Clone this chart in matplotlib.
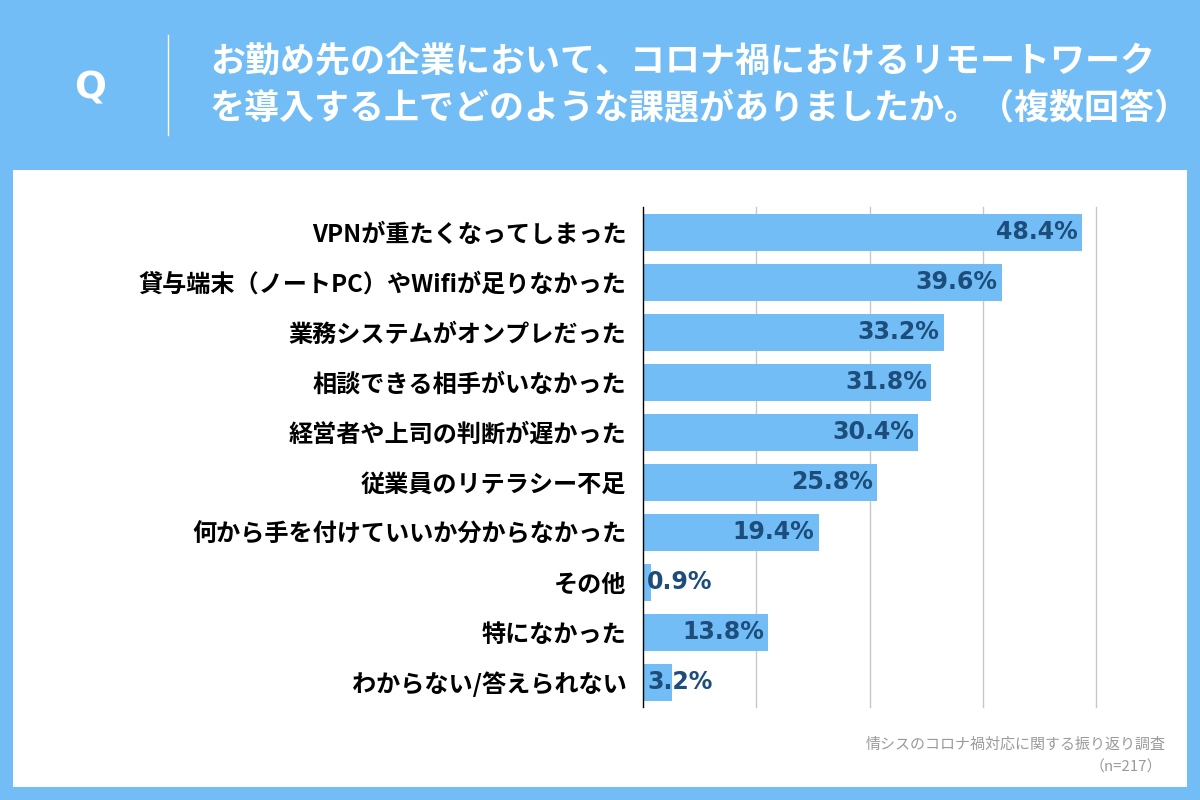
import matplotlib.pyplot as plt
from matplotlib.patches import Rectangle
from matplotlib.lines import Line2D

plt.rcParams['font.family'] = ['Noto Sans CJK JP', 'DejaVu Sans']

# ── Data ──────────────────────────────────────────────────────────────────────
categories = [
    "VPNが重たくなってしまった",
    "貸与端末（ノートPC）やWifiが足りなかった",
    "業務システムがオンプレだった",
    "相談できる相手がいなかった",
    "経営者や上司の判断が遅かった",
    "従業員のリテラシー不足",
    "何から手を付けていいか分からなかった",
    "その他",
    "特になかった",
    "わからない/答えられない",
]
values = [48.4, 39.6, 33.2, 31.8, 30.4, 25.8, 19.4, 0.9, 13.8, 3.2]
grid_ticks = [12.5, 25, 37.5, 50]

title_lines = [
    "お勤め先の企業において、コロナ禍におけるリモートワーク",
    "を導入する上でどのような課題がありましたか。（複数回答）",
]
source_text = "情シスのコロナ禍対応に関する振り返り調査"
n_text = "（n=217）"

# ── Colours ───────────────────────────────────────────────────────────────────
BG_BLUE = "#72bdf6"
BAR_BLUE = "#72bdf6"
LABEL_BLUE = "#1d4d7a"

W, H = 1200, 800
fig = plt.figure(figsize=(12, 8), dpi=100, facecolor=BG_BLUE)

# white panel
fig.patches.append(Rectangle((13 / W, 1 - 787 / H), (1187 - 13) / W, (787 - 170) / H,
                             transform=fig.transFigure, facecolor="white",
                             edgecolor="none", zorder=-5))

# header: Q, divider, title
fig.text(90 / W, 1 - 88 / H, "Q", color="white", fontsize=27, fontweight="bold",
         ha="center", va="center", family="DejaVu Sans")
fig.add_artist(Line2D([168 / W, 168 / W], [1 - 35 / H, 1 - 135 / H],
                      transform=fig.transFigure, color="white", linewidth=1))
for i, line in enumerate(title_lines):
    fig.text(210 / W, 1 - (61 + i * 48) / H, line, color="white", fontsize=25.2,
             fontweight="bold", ha="left", va="center")

# ── Bar chart ─────────────────────────────────────────────────────────────────
ax = fig.add_axes([643 / W, 1 - 707 / H, (1096 - 643) / W, 500 / H])
ax.set_zorder(2)
ax.set_facecolor("none")
ypos = list(range(len(categories)))
ax.barh(ypos, values, height=0.74, color=BAR_BLUE, zorder=2)
ax.set_xlim(0, 50)
ax.set_ylim(len(categories) - 0.5, -0.5)

for g in grid_ticks:
    ax.axvline(g, color="#c8c8c8", linewidth=1, zorder=1, clip_on=False)

for spine in ("top", "right", "bottom"):
    ax.spines[spine].set_visible(False)
ax.spines["left"].set_color("black")
ax.spines["left"].set_linewidth(1)
ax.spines["left"].set_zorder(3)

ax.set_xticks([])
ax.set_yticks(ypos)
ax.set_yticklabels(categories, fontsize=17.4, fontweight="bold", color="black")
ax.tick_params(axis="y", length=0, pad=12)

for y, v in zip(ypos, values):
    if v < 5:
        ax.annotate(f"{v}%", (0, y), xytext=(3, 0), textcoords="offset points",
                    ha="left", va="center", fontsize=17, fontweight="bold",
                    color=LABEL_BLUE, family="DejaVu Sans", zorder=4)
    else:
        ax.annotate(f"{v}%", (v, y), xytext=(-3, 0), textcoords="offset points",
                    ha="right", va="center", fontsize=17, fontweight="bold",
                    color=LABEL_BLUE, family="DejaVu Sans", zorder=4)

# source footer
fig.text(1166 / W, 1 - 745 / H, source_text, color="#9a9a9a", fontsize=10.8,
         ha="right", va="center")
fig.text(1162 / W, 1 - 767 / H, n_text, color="#9a9a9a", fontsize=10.8,
         ha="right", va="center")

fig.savefig("out.png", dpi=100, facecolor=BG_BLUE)
